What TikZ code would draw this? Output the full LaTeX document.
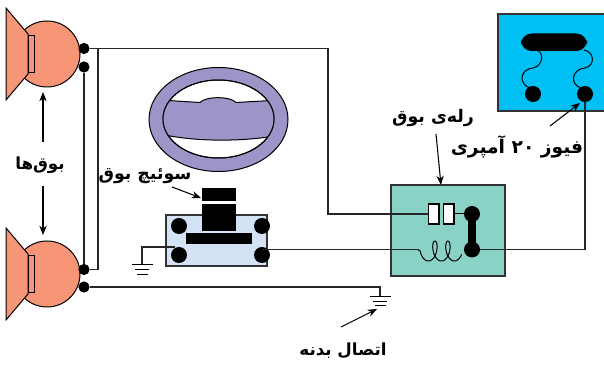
\documentclass[tikz,border=0pt]{standalone}
\usepackage{fontspec}
\usetikzlibrary{arrows.meta}
\newfontfamily\arabicfont[Script=Arabic]{DejaVu Sans}
\TeXXeTstate=1
\definecolor{salmon}{HTML}{F79677}
\definecolor{wheelc}{HTML}{9C95C8}
\definecolor{switchc}{HTML}{D3E2F5}
\definecolor{relayc}{HTML}{8AD2C6}
\definecolor{fusec}{HTML}{00BFF3}
\tikzset{
  wire/.style={line width=1.05pt,black!85},
  thinline/.style={line width=0.75pt,black},
  dotn/.style={circle,fill=black,inner sep=0pt,minimum size=8.4pt},
  bigdot/.style={circle,fill=black,inner sep=0pt,minimum size=12pt},
  panel/.style={draw=black!80,line width=0.9pt},
  contact/.style={draw=black,line width=0.8pt,fill=white,inner sep=0pt,minimum width=8.2pt,minimum height=15pt},
  pointer/.style={line width=0.8pt,-{Stealth[length=7pt,width=5.5pt]}},
  label/.style={inner sep=0pt,font=\arabicfont\bfseries\fontsize{#1}{16}\selectfont},
}
\newcommand{\hornunit}[1]{%
  \begin{scope}[shift={(0,#1)}]
    \draw[thinline,fill=salmon] (47,0) circle[radius=33];
    \draw[thinline,fill=salmon] (6,-46)--(28,-20)--(28,20)--(6,46)--cycle;
    \draw[thinline,fill=salmon] (28.5,-18.5) rectangle (34,18.5);
  \end{scope}}
\newcommand{\groundsym}[2]{%
  \draw[thinline] (#1-10.5,#2) -- (#1+10.5,#2);
  \draw[thinline] (#1-7,#2+4.8) -- (#1+7,#2+4.8);
  \draw[thinline] (#1-5,#2+9.3) -- (#1+5.5,#2+9.3);}
\begin{document}
\begin{tikzpicture}[x=0.75pt,y=-0.75pt]
\useasboundingbox (0,0) rectangle (604,366);
\hornunit{54}
\hornunit{274}
% steering wheel
\draw[thinline,fill=wheelc] (218.5,119.5) ellipse[x radius=69.5,y radius=52];
\draw[thinline,fill=white] (218.5,119) ellipse[x radius=55.5,y radius=39];
\begin{scope}
  \clip (218.5,119) ellipse[x radius=55.5,y radius=39];
  \draw[thinline,fill=wheelc] (160,100) -- (200,102.5) .. controls (206,96) and (230,96) .. (236,102.5) -- (280,100) -- (280,135) .. controls (250,141) and (200,143) .. (160,134) -- cycle;
\end{scope}
\draw[thinline] (218.5,119) ellipse[x radius=55.5,y radius=39];
% switch
\draw[panel,fill=switchc] (166,215) rectangle (267,266);
\fill[black] (202,188) rectangle (236,201.5);
\fill[black] (202,204) rectangle (236,231);
\fill[black] (186,233.5) rectangle (252,244.5);
\node[bigdot] (swTL) at (179,226) {};
\node[bigdot] (swTR) at (262,226) {};
\node[bigdot] (swBL) at (179,255) {};
\node[bigdot] (swBR) at (262,255) {};
% relay
\draw[panel,fill=relayc] (391,185) rectangle (505,276);
% fuse box
\draw[panel,fill=fusec] (498,14) rectangle (606,111);
\fill[black,rounded corners=8pt] (521,33.5) rectangle (587,51);
\node[bigdot] (fuseL) at (533,94) {};
\node[bigdot] (fuseR) at (585,94) {};
\draw[thinline] (536,50) .. controls (545,52) and (543,66) .. (533,68) .. controls (520,69) and (518,84) .. (530,88);
\draw[thinline] (584,50) .. controls (595,52) and (595,66) .. (585,68) .. controls (572,69) and (569,84) .. (581,88);
% terminals
\node[dotn] (h1a) at (84,48.5) {};
\node[dotn] (h1b) at (84,67) {};
\node[dotn] (h2a) at (84,269.5) {};
\node[dotn] (h2b) at (84,287) {};
% relay contents
\node[contact] (c1) at (433.5,214) {};
\node[contact] (c2) at (448.5,214) {};
\node[bigdot] (r1) at (472,214) {};
\node[bigdot] (r2) at (472,249.5) {};
\draw[line width=5.5pt] (r1.center) -- (r2.center);
\draw[thinline] (c2) -- (r1);
% coil
\coordinate (coilA) at (418,249.5);
\draw[thinline] (coilA) -- plot[smooth,domain=-90:790,samples=110] ({428.4+13*\x/360+5*sin(\x)},{251+10*cos(\x)});
% wires
\coordinate (gndA) at (142,265);
\coordinate (gndB) at (380,296.5);
\coordinate (k1) at (98,48.5);
\coordinate (k2) at (328,48.5);
\coordinate (k3) at (328,214);
\coordinate (k4) at (98,269.5);
\coordinate (k5) at (585,249.5);
\coordinate (swBRw) at (262,249.5);
\coordinate (swBLw) at (175,247);
\draw[wire] (h1a) -- (k2) -- (k3) -- (c1.west);
\draw[wire] (k1) -- (k4) -- (h2a);
\draw[wire] (h1b) -- (h2a);
\draw[wire] (h2b) -| (gndB);
\groundsym{380}{296.5}
\draw[wire] (swBLw) -| (gndA);
\groundsym{142}{265}
\draw[wire] (swBRw) -- (coilA);
\draw[wire] (r2) -- (k5) -- (fuseR);
% labels
\node[label=12.5] (tHorns) at (40,165) {\beginR بوق‌ها\endR};
\node[label=13] (tSwitch) at (145,176) {\beginR سوئیچ بوق\endR};
\node[label=13] (tRelay) at (433,118) {\beginR رله‌ی بوق\endR};
\node[label=14] (tFuse) at (517,147) {\beginR فیوز \beginL ۲۰\endL{} آمپری\endR};
\node[label=12.5] (tGround) at (343,351) {\beginR اتصال بدنه\endR};
% pointers
\coordinate (hornTop) at (43,92);
\coordinate (hornBot) at (43,235);
\coordinate (p1) at (43,142);
\coordinate (p2) at (43,186);
\draw[pointer] (p1) -- (hornTop);
\draw[pointer] (p2) -- (hornBot);
\coordinate (p3) at (172,187); \coordinate (p3e) at (201,198);
\draw[pointer] (p3) -- (p3e);
\coordinate (p4) at (436,134); \coordinate (p4e) at (441,185);
\draw[pointer] (p4) -- (p4e);
\coordinate (p5) at (550,126); \coordinate (p5e) at (580,103);
\draw[pointer] (p5) -- (p5e);
\coordinate (p6) at (341,327); \coordinate (p6e) at (377,309);
\draw[pointer] (p6) -- (p6e);
\end{tikzpicture}
\end{document}
